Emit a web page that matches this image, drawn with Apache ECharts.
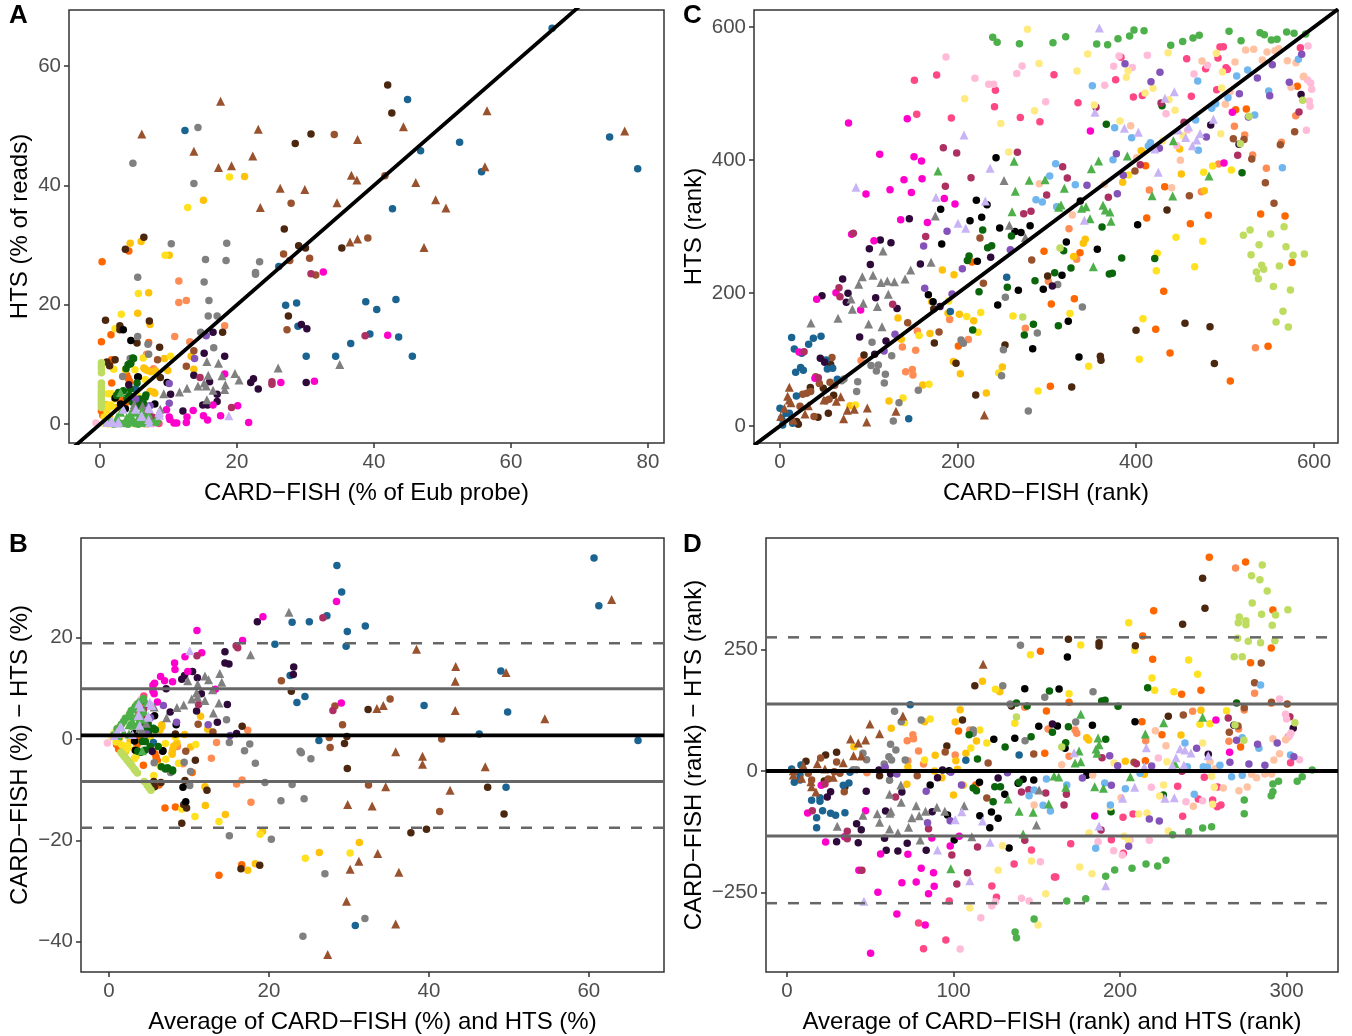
<!DOCTYPE html>
<html><head><meta charset="utf-8">
<style>html,body{margin:0;padding:0;background:#fff}#c{width:1352px;height:1036px}</style>
<script src="https://cdn.jsdelivr.net/npm/echarts@6/dist/echarts.min.js"></script>
</head><body><div id="c"></div>
<script>
// Panel A values: [CARD-FISH %, HTS %]
const pctBlue=[[12.4,49.2],[66,66.3],[44.9,54.4],[52.5,47.2],[46.8,45.8],[74.4,48.1],[78.5,42.8],[55.7,42.3],[42.7,36.1],[38.8,20.5],[43.2,20.9],[40.4,19.2],[39.4,15.1],[43.6,14.6],[45.6,11.4],[36.6,13.5],[26.1,26.4],[27.1,19.9],[28.7,20.3],[28.9,16.4],[30.1,11.4],[34.4,11.4],[5.2,5.9]];
const pctGrey=[[14.3,49.7],[4.8,43.7],[13.7,40.3],[10.4,30.2],[18.5,30.3],[15.4,27.6],[18.4,27.4],[23.3,27.2],[22.7,25.4],[22.7,25.1],[5.5,24.6],[15.2,23.8],[15.9,20.7],[15.8,18.1],[17.1,18.1],[14.7,15.4],[5.5,14.7],[7,13.4],[16.6,12.8],[7.1,11.7],[4.4,11],[3.3,8]];
const pctBrown=[[34.2,48.5],[27.9,37],[41.6,41.6],[39.1,31.2],[26.8,28.5],[27.7,27.4],[30.6,27.8],[31.5,25],[27.3,15.8],[13.7,12.3],[8.4,10.8],[12.6,9.7]];
const pctDarkBrown=[[28.5,47],[30.8,48.6],[26.9,32.7],[42,56.8],[42.6,52.1],[3.7,29.3],[6.4,31.3],[29,29.9],[30,29.5],[35.3,29.5],[0.8,17.4],[7.2,17.3],[2.9,16.5],[2.9,15.8],[27.5,18.1],[17.9,15.4],[5.4,13.6],[8.7,12.9],[2.2,10.8],[1,10.4],[1.4,9.8],[8.8,7.8]];
const pctOrange=[[0.3,27.2],[4.2,29],[1.6,15],[0.2,13.8],[7.1,13.7],[1.8,10.7],[1.7,6.9],[4.1,7.7],[0.2,2.2],[0.8,2.2],[0.4,1.5],[1.7,10.8],[0.3,3],[0.6,1.7],[3.7,3.5],[2.9,4.1],[3.9,8.2],[4.3,7.2]];
const pctSalmon=[[11.5,24],[11.5,20.4],[12.6,20.7],[18.2,16.5],[10.9,14.7],[13.1,13.8],[6.8,11.7],[7.8,9.3]];
const pctGold=[[21.1,41.5],[15.1,37.5],[4.4,30.3],[6,30.6],[10.1,28.3],[7.1,22],[5.5,18.6],[7.3,16.7],[13.3,11.4],[9.4,11],[13.7,9.2],[6.4,9.4],[6.9,9],[7.4,8.8],[9.9,9],[7.3,5.5],[8,5.2],[8.1,8.9],[6.6,9.2],[7.8,5.4],[0.8,3.3],[2.5,2.8],[1.4,1.2]];
const pctYellow=[[18.9,41.4],[12.8,36.3],[9.5,28.3],[5.6,21.9],[3.1,18.4],[2.2,16],[10.3,11.4],[6.3,11.1],[2,9.2],[5.1,9.1],[8.5,8.1],[1.2,5.1],[1.7,5.1],[5.4,4.9],[1.4,3.2],[1.7,3],[1,3.1],[3.7,9.1],[6.6,7.5],[0.6,1.2],[1,2.2],[2.1,4.2]];
const pctBlack=[[3.4,15.8],[4.5,14],[5.6,7.9],[9.8,7],[8,3.4],[3,3.4],[5.5,7.9],[2.2,4.4],[3.7,2.6]];
const pctDarkGreen=[[4.9,11],[4.1,10],[4.5,10.2],[3.8,9.3],[2.7,5.3],[4.4,5.9],[5.4,6.9],[6.7,4.9],[5.8,4.2],[5.8,3.1],[4.8,11.1],[4.3,4.8],[6.6,4.5],[4.7,3.7],[6.4,3.4],[4.4,10.1],[3.4,5.6],[2.4,4.8],[3.9,4.4],[5.1,3.7]];
const pctDarkPurple=[[29.4,16.7],[30.2,16],[16.5,15.4],[15.2,11.9],[18.2,11.4],[13.7,8.2],[22.4,7.6],[22,7],[30.1,7],[16,7.1],[23.1,5.9],[17.1,5],[10.3,5],[4.2,6.6],[17.1,3.8],[15,3.2],[15.7,3.2],[12.1,2.2]];
const pctMagenta=[[42,14.9],[32.6,25.5],[18.2,8.4],[26.4,7],[31.3,7.2],[16.5,3.2],[20.1,3.1],[17.6,1.4],[15.7,0.7],[15.1,1.4],[13.6,2.3],[21.7,0.3],[9.7,2.4],[10.1,1.2],[10.2,0.8],[10.8,0.2],[11.2,0.2],[12.6,0.3],[12.7,1.2]];
const pctRaspberry=[[38.7,14.8],[30.8,25.2],[14.6,7.8],[25.1,7.1],[25.1,6.7],[19.2,2.8],[7.3,1.4],[7.8,1.1],[6.6,1.9]];
const pctPink=[[8.6,0.1],[6.4,0.8],[5,0.3],[7.2,0.4]];
const pctLightPink=[[-0.6,0.2],[7.9,0.1],[3.5,0.1],[6.3,0.1]];
const pctPurple=[[15.5,14.8],[13.8,11],[10.1,6.8],[10.1,3.5],[5.2,4.2],[7.3,3.1]];
const pctLime=[[0.2,10.3],[0.2,9.8],[0.2,9.3],[0.2,8.6],[0.2,6.9],[0.2,6.4],[0.2,6.1],[0.2,5.6],[0.2,5.2],[0.2,4.9],[0.2,4.5],[0.2,4.2],[0.2,3.8],[0.2,3.5],[0.2,3.1],[0.2,2.8]];
const pctGreen=[[1,0.2],[2,0],[3,0.1],[4.1,0],[5.6,0],[6.5,0.1],[7.5,0.2],[8.3,0.3],[1.4,0.5],[4.8,0.4],[2.6,0.2],[3.6,0.1],[5.1,0.1],[6,0.2],[7,0.1]];
const pctLightYellow=[[0.5,0.1],[1.2,0],[2.2,0],[3,0.1],[4,0.1],[5.4,0],[6.8,0],[2.6,0.2],[1.7,0.1],[3.5,0.2],[4.7,0.1],[6.1,0.1]];
const pctGreyTri=[[35,10],[26,9.4],[15.6,10.5],[17.3,10.2],[19.7,8.5],[15.8,8.2],[17.8,8.1],[20.3,7.4],[15.2,6.9],[14.3,6.4],[15.5,6.4],[18.3,6.6],[12.7,6],[16.5,5.7],[18.2,5.8],[11.6,5.4],[9.3,5.1],[15.6,4.1],[8.8,2.5],[5,3.3],[5.1,2.2],[4.9,2.8],[6.2,3.1]];
const pctBrownTri=[[6.1,48.6],[17.6,54.1],[23.1,49.4],[37.6,47.7],[13.7,45.7],[17.3,43],[19.2,43.3],[22.3,44.9],[26.3,39.5],[29.9,39.3],[36.7,41.7],[37.5,40.9],[34.6,37.1],[23.4,36.3],[44.3,49.8],[56.5,52.5],[76.6,49.1],[56.2,43.1],[46.1,40.5],[49,37.6],[50.5,36.2],[36.5,30.5],[37.6,31],[47.3,29.6]];
const pctGreenTri=[[4.4,1.7],[5.1,2],[5.6,1.1],[3.9,1.1],[3,5.3],[3,2],[1.5,0.8],[8.3,1.1],[7.1,1.7],[6.3,1.5],[2.5,1.2],[4.7,1.1],[6.1,2.2]];
const pctLavTri=[[18.8,1.4],[8.7,2],[7.1,2.8],[6.1,1.4],[7.1,0.8],[1.7,0.6],[2.7,0.4],[1,0.3],[3.4,2.5],[1.75,0.3],[2.6,0.2],[5.2,2.5],[8.6,2],[6,1.3],[7.2,2.6],[7.2,0.25],[8.7,1.5]];

// Panel C values: [CARD-FISH rank, HTS rank]
const rankBlue=[[254.7,223.6],[191.4,172],[13.1,132.9],[37.5,131.9],[46.1,134.9],[32.2,122.8],[16.1,115.8],[24.4,109.3],[51.7,99.3],[53.2,85.8],[59.2,86.8],[17.6,80.7],[23.2,87.8],[26.2,83.8],[64.4,70.2],[18.4,45.2],[0,26.6],[6.8,19],[10.5,19],[1.9,11.6],[3,1.6],[14.2,4],[144.6,11]];
const rankGrey=[[253.2,193.5],[289.1,139.9],[251,114.8],[249,75.7],[279,22.6],[203.4,129.4],[206,124.4],[103.4,125.9],[125.5,105.8],[102.3,90.8],[110.5,91.8],[108.3,82.7],[118.4,77.7],[117.2,64.7],[87.3,66.7],[86.1,51.7],[155.4,53.7],[133.7,35.1],[127.3,7.6],[71.9,70.7],[69.3,68.2],[312,212.6],[339.7,179]];
const rankBrown=[[224.7,282.8],[282.8,249.7],[228.5,214.6],[143.5,155.4],[178.7,141.4],[58.4,102.8],[40.1,74.2],[56.2,65.7],[44.2,63.7],[61.4,61.2],[25.5,47.7],[30,49.2],[34.5,51.7],[55.1,40.2],[51.3,38.1],[22.5,29.6],[38.2,14.1],[509.3,432],[521.3,431],[562.1,423],[530,401.5],[545.3,365.9],[578.2,442.6],[459.9,346.4],[555,334.8],[398.8,383.4]];
const rankDarkBrown=[[434.8,324.8],[300.7,225.6],[252.8,121.9],[173.4,124.9],[197.8,94.3],[219.9,46.7],[94.4,106.8],[56.9,92.8],[34.1,57.7],[48.7,56.7],[60.3,46.2],[42.7,13.1],[54.3,19.1],[18.7,6.6],[20.6,2.6],[172.7,176],[400,143.9],[455,154.4],[483.1,149.4],[488,93.8],[359.9,104.8],[360.6,98.8],[327.7,58.7]];
const rankOrange=[[215.7,246.7],[200.4,120.3],[511.9,475.7],[523.9,476.7],[581.2,510.8],[410.8,391.5],[432.2,359.9],[412,312.8],[481.2,316.8],[461,304.3],[540,318.8],[567.4,315.8],[575.2,245.7],[548.3,119.8],[505.9,67.7],[422.1,145.4],[438.2,109.8],[431.1,202.6],[337,260.7],[296.6,262.7],[330.7,191.5],[304.8,183.5],[303.7,59.7]];
const rankSalmon=[[190.6,160],[211.6,129.9],[275.7,146.9],[154.3,142.9],[137.5,118.8],[152.4,113.8],[91,98.3],[141.2,81.7],[148.7,84.8],[149.4,76.7],[510.5,450.6],[522.1,437.6],[563.3,426.6],[531,407.5],[546.4,387.5],[492.8,394],[579.4,466.7],[414.9,354.9],[473.4,352.4],[534.1,117.8],[324.7,296.8],[333.3,250.7],[301.5,217.6]];
const rankGold=[[182.4,234.6],[195.5,227.6],[132.6,162.5],[170.4,187],[188.8,169.5],[201.5,168],[217.6,158.4],[168.5,138.9],[136.3,130.4],[249.8,88.8],[231.8,49.7],[202.6,78.7],[194.8,96.8],[122.5,37.6],[160.3,61.7],[78.7,30.6],[405.9,414],[449,416.5],[385,366.4],[450.9,379],[476.7,353.9],[343,280.7],[340.8,274.7],[329.9,254.7]];
const rankYellow=[[189.5,188],[209.8,164.5],[225.5,170.5],[261.8,165.5],[222.5,140.9],[156.2,135.9],[245.7,79.7],[289.9,52.7],[167.4,62.7],[138.2,42.2],[84.7,31.6],[391.7,377.4],[476,381.5],[486.1,391],[507.1,385],[474.9,277.7],[465.9,239.6],[444.9,283.8],[423.9,259.7],[422.8,233.6],[407.8,161.4],[403.7,100.3],[346.8,89.8],[325.8,169]];
const rankBlack=[[242.7,403.5],[220.6,339.4],[232.6,332.8],[180.5,325.8],[213.5,308.8],[226.6,313.8],[246.8,297.7],[281,301.3],[181.7,273.7],[221.7,247.7],[264,292.3],[270.8,290.8],[166.7,197.5],[267.8,204],[295.8,205.6],[244.6,182],[283.9,116.3],[172,187],[337.4,338.3],[401.8,302.8],[321.7,276.7],[356.5,265.7],[316.8,226.6],[323.9,157.4],[335.9,103.8]];
const rankDarkGreen=[[227.7,294.7],[260,285.8],[212.4,255.7],[210.5,248.7],[233.3,268.2],[237.8,271.2],[223.6,202],[255.4,208.6],[286.5,218.6],[216.5,144.4],[284.7,153],[274.5,136.9],[429.2,481.7],[366.6,453.6],[519.1,381],[361.8,299.3],[318.7,263.7],[326.9,237.6],[308.6,230.6],[383.9,252.7],[421,251.7],[370,228.6],[373.4,229.6],[312.7,150.9]];
const rankDarkPurple=[[145.3,311.8],[112.7,279.7],[124.7,275.7],[100.4,266.7],[101.5,242.7],[70.4,221],[76.4,199.5],[47.2,196],[74.5,186],[107.5,193],[131.5,176.5],[157.7,243.7],[236.7,253.7],[89.5,133.9],[119.1,127.9],[106.4,107.8],[45.3,101.8],[50.2,95.8],[179.8,179.5],[483.9,452.6],[585.4,498.7],[515.7,423.6],[306,210.6]];
const rankMagenta=[[77,455.6],[143,462],[112,408.5],[150.6,405],[159,398.5],[139.3,370.4],[159.6,372],[123.6,355.4],[96.6,349],[147.6,351],[184.6,342],[196.6,334],[135.6,310],[165.6,306],[80.5,288.3],[105.6,278.7],[62.9,200.5],[41.2,190.5],[90.6,174.5],[21.4,111.3],[39.3,71.7],[348.7,443.6],[508.2,471.7],[498.8,395.5]];
const rankRaspberry=[[183.5,418.5],[198.5,410.5],[266.7,411.5],[214.6,373.4],[185.8,360.4],[299.6,347.4],[273.8,319.3],[282,322.8],[82.4,289.8],[163.7,284.8],[66.3,208],[67.4,194.5],[126.6,183],[27,111.8],[43.1,72.7],[355,479.2],[428.1,485.7],[453.9,456.6],[404.8,393],[514.2,407],[583.1,472.2],[317.6,390],[322.8,372.9],[368.9,343.9]];
const rankPink=[[151,520],[176,528],[242,505],[241,480],[153.6,468.7],[192.5,463],[270,464],[292,457.6],[307.8,528.3],[383.1,554.4],[377.1,520.8],[334.8,486.2],[397,494.7],[407.1,497.2],[462.1,495.7],[456.9,552.4],[492.1,553.4],[478.2,537.3],[494.3,570],[498.1,570.4],[501.1,538.8],[502.6,536.3],[490.6,505.8],[584.6,568.9]];
const rankLightPink=[[186.5,555],[219,523],[234.5,514],[240,514],[272,541.5],[266,530],[298.5,487.7],[380.9,556.4],[374.9,541],[364.8,512.3],[412.7,557.4],[395.8,539.3],[465.1,529.3],[480.1,542.4],[433.7,469.7],[458,445],[445.7,422],[593.2,571.4],[588,525.3],[592.8,520.3],[596.2,515.8],[597.3,506.3],[594.7,488.7],[595.5,480.7],[591.4,444.6]];
const rankPurple=[[187.7,292.8],[161.4,270.7],[204.9,236.6],[162.6,207],[193.3,198.5],[258.8,265.2],[129.2,137.9],[116.9,112.8],[387.6,544.9],[426.9,531.8],[416.8,517.8],[516.1,499.7],[536.3,523.3],[553.1,543.4],[586.1,558.9],[572.2,516.8],[550.2,496.7],[526.2,464.7],[479,434.6],[426.2,417.5],[377.9,409.5],[385.7,377],[344.9,361.9],[379,349.4]];
const rankLightBlue=[[287.6,340.4],[303,376],[350.9,511.8],[469.3,518.8],[513.1,526.3],[525.4,535.3],[582.4,551.4],[549,503.8],[503.3,493.7],[489.5,484.7],[485,477.7],[467,460.2],[533.3,467.7],[376,448.6],[395.1,433.6],[416.1,426],[413.8,421],[470,414.5],[309.7,394.5],[374.1,400.5],[564.4,388.5],[331.8,362.9],[294.7,336.8],[310.8,329.8]];
const rankPeach=[[291.4,364.4],[523.2,565.4],[532.2,566.4],[547.2,562.4],[556.1,564.4],[560.3,567.4],[541.9,550.4],[570,549.4],[579.7,546.4],[511.2,547.4],[474.1,548.9],[588.4,525.8],[574.1,509.3],[500.3,483.7],[505.6,502.8],[394,451.6],[449.8,399.5],[440,358.4],[328.4,317.3],[364.4,363.4],[400.7,403.5]];
const rankLightYellow=[[278,596.5],[291,545],[286,474],[207.5,492],[248,455],[257,412],[345.7,559.4],[333.7,533.8],[391,534.3],[389.1,524.3],[419,507.8],[410.1,500.7],[353.1,482.7],[382,458.6],[437,490.7],[443.8,474.7],[436,561.4],[490.2,560.4],[497,532.3],[496.2,508.3],[495.1,439.6],[453.1,436],[430,429]];
const rankLime=[[272.7,164],[526.9,465.7],[517.2,424.6],[587.2,489.7],[520.6,286.8],[528.1,294.8],[551.3,288.8],[566.3,299.8],[538.2,272.7],[568.5,269.7],[529.2,257.7],[576.4,256.7],[589.1,258.7],[561,240.6],[541.2,241.6],[543.4,235.6],[535.2,231.6],[537.4,221.6],[554.3,209.6],[573.4,204.6],[565.1,172.5],[557.3,156.4],[571.1,148.9],[314.6,267.7]];
const rankGreen=[[239,584.5],[244,577],[269,575],[306.7,576.4],[321,585.5],[355.8,574.4],[368.1,573.4],[379.7,582.5],[392.8,586.5],[397.7,595.5],[409,594.5],[439,572.4],[452.4,578.4],[464,583.5],[471,587.5],[504.5,593.5],[518,579.4],[539.3,591.5],[544.2,588.5],[552,580.5],[558.4,581.5],[569.2,592.5],[577.5,590.5],[590.6,589.5]];
const rankGreyTri=[[251.7,369],[174.5,315.8],[257.7,301.8],[115.7,263.2],[92.5,224.6],[104.5,226.6],[88.4,213],[120.6,218],[113.5,215.6],[128.5,217],[140.5,221],[146.8,234.6],[169.7,246.2],[121.7,198],[79.8,191],[93.6,184.5],[109.4,179.5],[81.3,175.5],[65.2,162],[34.8,155],[99.6,153.4],[114.6,149.4],[275.7,283.3]];
const rankBrownTri=[[10.5,58.2],[8.6,44.6],[10.5,39.1],[12.4,35.1],[31.8,30.6],[4.9,26.6],[0.8,14.1],[15,9],[28.1,18.1],[49.4,39.1],[63.3,37.1],[68.2,44.1],[83.5,25.1],[75.7,23.6],[98.1,27.1],[71.5,11],[97.4,6.1],[130.3,22.1],[229.6,16.6]];
const rankGreenTri=[[177.5,383.5],[263,398],[280,369.4],[297.8,370.4],[264.4,353],[260.7,322.3],[441.9,429],[390.2,406],[358,398.5],[349.8,387],[319.4,357.4],[482,376],[418,346.4],[441.2,345.9],[315.7,332.3],[313.1,328.8],[343.8,329.8],[338.9,327.3],[362.9,331.8],[365.5,324.8],[370.7,321.8],[371.9,307.8],[348.3,311.8],[352,239.6]];
const rankLavTri=[[206.7,437.6],[85.4,358.9],[236,387.5],[175.3,343.9],[230.7,338.3],[200,305],[208.6,297.2],[358.8,598.5],[443,502.8],[432.5,493],[353.9,471.7],[386.9,447.6],[402.6,441.6],[447.5,445],[459.1,450],[486.9,461.2],[471.9,440],[468.1,430],[455.8,434],[463.3,421.5],[421.3,416.5],[425,381.5],[341.9,309.3]];

// Panel D values: [average rank, rank difference]
const diffBlue=[[74,136.4],[139.4,32.9],[107.4,21.9],[2.8,4],[8.4,12.3],[7.8,-8.3],[4.4,-23.4],[7.8,-18.6],[37.8,-2.8],[33.8,-29.5],[37.2,-24.7],[14.8,-60.4],[19.8,-55],[19.8,-62.5],[21.4,-81.7],[26.2,-87.2],[29.2,-91.3],[34.8,-85.8],[17.8,-96],[17.8,-116.6]];
const diffGrey=[[140.2,258.5],[129.6,175.5],[154.8,151.5],[64.6,122.7],[68.6,101.5],[80.6,104.9],[111.8,84.3],[111.8,77.5],[143,62.4],[134,137.8],[62.2,54.8],[65.4,43.2],[61.2,29.5],[62.8,22.6],[58.4,14.4],[71,22.6],[45.6,36.3],[47.8,23.3],[39.8,2.7],[41.8,2.7],[61.6,-19.3],[183.8,163.2],[173.4,100.8]];
const diffBrown=[[20.2,26.7],[29.8,18.5],[12.8,-4.8],[28.4,-1.4],[31.8,-4.8],[14.8,-18.6],[24.8,-16.5],[34.4,-42.6],[95,39],[120.8,16.4],[148.2,34.9],[78.2,-9.7],[120,-55.6],[284.8,222.2],[280.8,181.7],[300.4,137.8],[291,141.3],[274.6,130.3],[238,115.2],[265.6,79.6],[208.4,17.8],[270.8,92.6]];
const diffDarkBrown=[[112.8,175.5],[105.4,104.9],[134.8,133.7],[96,51.4],[29.8,38.4],[23.2,32.9],[11.4,19.8],[34.8,-32.3],[22.4,-20.6],[55.6,-9.7],[249.6,396.4],[251,334.7],[237.6,301.8],[169,270.9],[187.4,264],[187.4,257.2],[209.2,257.9],[229,112.5]];
const diffOrange=[[152.2,246.2],[103,82.3],[155.8,123.4],[154.8,36.3],[113.4,-28.9],[253.6,439.6],[275.4,430],[220.2,329.9],[291.8,331.3],[290.8,253],[219.6,229.8],[213.6,277.8],[278.4,222.9],[237,157.7],[248.6,166],[169.4,141.3],[213.2,101.5],[225.2,74.8],[272.4,49.4],[215.2,21.3]];
const diffSalmon=[[109.8,84.3],[142.8,131],[156.8,86.4],[101,32.9],[79,41.1],[72.2,62.4],[75.6,74.7],[76,66.5],[72.6,21.2],[82,14.4],[48,-3.5],[269.4,417.7],[280.8,159.8],[243.6,122.8],[274.6,125.5],[290.8,139.2],[271.2,86.4],[265.4,61],[215.4,62.4],[173,84.3],[174,77.5],[169.4,30.2],[301,70.6]];
const diffGold=[[117.4,184.5],[127.8,163.2],[62.6,87.7],[82.6,101.5],[104,126.2],[101,100.8],[113.8,61.7],[107.4,36.3],[89,32.2],[101.4,21.2],[102.4,3.4],[72.6,8.9],[40.2,50],[88.6,0],[93,-13.8],[72,-27.5],[100,-49.4],[105.8,-29.5],[248.6,124.8],[236.6,74],[203.2,19.9],[180,68.6],[181.2,63.8],[214.6,-6.9]];
const diffYellow=[[146.2,239.3],[125.2,168],[70.6,99.4],[86,107],[115.8,84.3],[120,57.6],[110.4,47.3],[136.8,98],[82.6,22.6],[205.2,305.2],[176.4,259.3],[208.8,248.3],[241.2,228.4],[246.6,198.9],[219.2,191.3],[220.8,166],[232.4,163.2],[169.4,159.1],[264,124.1],[248,96],[254,97.4]];
const diffBlack=[[142.8,169.4],[124.2,65.1],[136.8,67.2],[151.2,91.9],[86,-28.9],[96.4,-90.6],[115.6,-23.4],[115.8,-92],[122.8,-84.4],[126.8,-97.4],[121.8,-116.6],[130.8,-48],[138.8,-25.4],[141.8,-17.2],[148.2,-18.6],[100.4,-142],[133.4,-158.5],[97.4,0.6],[168.4,234.6],[163.4,168.7],[183.4,94],[209,101.5],[162.4,92.6],[180,-8.6],[167,46.6]];
const diffDarkGreen=[[157.6,164.6],[109.4,74.7],[146.6,70.6],[137.8,139.9],[144.2,133.7],[159.4,79.5],[131,49.3],[114.4,24.6],[111.8,-35],[113.8,-40.5],[124.8,-32.3],[128.2,-32.3],[123.8,-63.1],[139.4,-23.4],[216.6,171.5],[189,144],[191,145.4],[198.8,133],[270,139.9],[169,91.2],[191.4,65.2],[167.4,58.3],[194.6,-83.7],[226,-49.4]];
const diffDarkPurple=[[159.4,96.7],[55.2,2],[26.2,-42.6],[24.2,-53.5],[47.6,-41.9],[69,-43.3],[59.2,-82.4],[87.2,-83.7],[41.8,-108.4],[44.6,-120.8],[29.8,-145.4],[42.8,-147.5],[58.6,-138.6],[72.2,-148.9],[59.6,-163.3],[66.6,-164.6],[83.6,-163.3],[62.2,-5.5],[90.4,-13.8],[93.4,2],[126.8,-14.5],[253,34.3],[304,87.8],[268.4,94]];
const diffMagenta=[[20.6,-29.5],[12.4,-86.5],[47.2,-81.7],[23.2,-146.1],[34.6,-135.2],[56.2,-170.8],[72.6,-171.5],[87,-137.9],[103.4,-134.5],[98,-154.4],[80.6,-200.3],[88,-209.2],[77.6,-228.4],[69,-229.8],[88.4,-237.4],[85,-252.4],[54.6,-249.7],[43.2,-204.4],[66,-294.3],[83,-317],[50.2,-375.2],[257.6,104.9],[265.8,38.4],[184.8,-92.6]];
const diffRaspberry=[[15.2,-81.7],[22.8,-26.8],[65.2,-53.5],[36.2,-124.2],[36.2,-139.3],[85,-118.7],[99,-172.9],[108.4,-209.2],[102,-232.6],[45,-204.4],[114.4,-156.4],[140.8,-43.3],[145.2,-38.5],[155.4,-45.3],[142.8,-142.7],[265,109],[302,111.8],[209.8,15.1],[189.2,27.4],[167.8,-48],[166.4,-70],[188.6,-121.4],[237.2,-0.7]];
const diffPink=[[136.4,-191.4],[146.8,-162.6],[123,-236.7],[125.8,-260],[97.4,-267.5],[79,-312.8],[95.4,-347.8],[82,-365.6],[160.6,-218.2],[302.4,17.1],[250.6,-13],[234.6,-31.6],[258.6,-33],[247,-57.6],[255.6,-59.7],[260.6,-70],[258.4,-73.4],[237.6,-93.3],[207.8,-88.5],[201.8,-95.3],[194.8,-141.3],[170.4,-149.5],[161.4,-218.1],[202,-169.4]];
const diffLightPink=[[152.2,-186.6],[140.8,-262],[145.4,-267.5],[123,-277.1],[125.2,-269],[116.4,-301.8],[104,-366.3],[295.8,148.1],[299.4,116.6],[300,107],[302.6,77.5],[301.6,71.3],[307.8,23.3],[223,26.7],[218.8,-33.6],[239.6,-63.1],[249.6,-61],[186.8,-145.4],[217.6,-142.7],[206,-142],[196.2,-164],[201.4,-172.8]];
const diffPurple=[[59,7.5],[66,-6.2],[83.6,-41.9],[98.4,-2.8],[84.4,-106.4],[98,-102.3],[104.8,-28.9],[132.4,-3.5],[294.4,57.6],[282.6,54.9],[270,63.1],[246,46.6],[266,17.8],[277.4,14.4],[287,11.6],[304.4,29.5],[219,10.3],[198.6,11],[193.8,31.5],[177.4,-14.4],[194.8,-29.5],[217.6,-98.8],[223.6,-102.9],[205.2,-155]];
const diffLightBlue=[[145.4,-50.8],[148.4,-39.1],[155.8,-16.5],[153.8,-70.7],[158.2,-82.4],[284.4,177],[273.4,68.6],[283.4,46.6],[239,57.6],[302.4,33],[260,11.6],[250,8.9],[252.4,7.6],[240.4,8.9],[267,-11.7],[273.4,-9],[190.8,-24.7],[203.2,-36.4],[168,-28.8],[244.6,-48],[194.2,-70],[185.4,-159.1],[212,-4.8]];
const diffPeach=[[148.4,-70],[221.2,83],[227.6,52.1],[165,13],[291.8,66.5],[299.4,64.5],[295.8,35.7],[292.4,22.6],[254,18.5],[262,-35],[271.4,-40.5],[276.4,-33],[279,-6.9],[282,-13.7],[287,-6.2],[291,-6.2],[244,-72.7],[200.6,-54.9],[257,4.8],[183.6,-8]];
const diffLightYellow=[[129.4,-153.7],[146.8,-185.2],[126.8,-204.4],[155.4,-252.4],[109.8,-282],[150.8,-317],[249.6,57.6],[196.4,16.5],[228.2,19.2],[255,-11],[226.2,-28.8],[223.8,-51.4],[256.6,-33.6],[255.6,-68.6],[194.2,-74],[211.2,-88.5],[216.2,-86.4],[181.4,-127.6],[202.4,-134.4],[205,-142],[229,-123.5],[175.8,-197.5],[183.2,-211.3]];
const diffLime=[[137.8,111.1],[285.4,423.9],[279,401.9],[284,393.7],[288.4,370.4],[279.4,345.7],[300.8,332],[285,322.3],[293.4,321],[271.6,316.9],[271,305.2],[275.6,309.3],[275.6,301.1],[291.4,299.7],[270.6,273],[277,266.8],[284.4,264],[293,268.2],[268.6,235.2],[273.4,235.2],[305,99.4],[269,94.6],[274.4,63.1],[165,49.4]];
const diffGreen=[[148.4,-304.6],[137,-331.3],[137.8,-343],[315.4,2],[309.4,-11.7],[306.4,-21.3],[295.2,-21.3],[291.8,-26.8],[291.8,-42.6],[290.8,-50.8],[274.6,-59.7],[274.6,-87.8],[255,-114.6],[249.6,-117.3],[241.2,-124.8],[231.6,-131],[227.6,-183.8],[222.6,-195.5],[215.6,-191.4],[207.2,-200.3],[196.8,-203.7],[191.4,-216.7],[179.4,-262.7],[168,-267.5]];
const diffGreyTri=[[30.2,-113.9],[45.6,-91.3],[54.2,-87.8],[55.6,-105.7],[61.6,-119.4],[66.6,-126.9],[73,-116],[75,-96.1],[79.4,-92],[83.2,-83],[77.6,-71.4],[90,-74.8],[94.8,-83],[106.4,-71.4],[62.4,-83],[61.8,-87.2],[61.6,-48],[68.4,-28.9],[68.6,-64.5],[80,-142],[111,-135.2],[149.8,-111.2],[151.4,-39.1]];
const diffBrownTri=[[117.8,219.4],[69.6,113.1],[49.8,96.7],[55.6,76.8],[38.2,65.8],[42.8,57.6],[47.2,63.7],[40,31.5],[44.6,30.8],[18.2,15],[22.8,4],[33.8,17.1],[9.8,11.6],[3.8,0.6],[3.8,-8.3],[8.8,-15.1],[14.4,-22],[14.8,-32.3],[17.4,-43.3],[27.8,-13]];
const diffGreenTri=[[132.8,-57.7],[139.4,-83],[147.8,-85.1],[157.2,-68],[141.8,-129.7],[98.4,-201],[160.4,-10.3],[176.4,116.6],[226.2,99.4],[249.6,110.4],[215.2,76.1],[186.8,67.9],[187.4,54.2],[185.6,45.3],[186.2,36.3],[175.4,41.1],[176.4,19.2],[173,16.4],[163.2,-12.3],[167.4,-33.6],[184.8,-32.2],[190,-35.7],[206.2,-11.7],[233,15.1]];
const diffLavTri=[[105,-83.7],[101,-100.2],[117.4,-103],[122,-146.8],[90.4,-162.6],[109.8,-225.7],[46.2,-268.2],[172.4,37.7],[215.8,48],[236,45.9],[239,43.2],[242.6,37],[233.6,27.4],[253,31.5],[238.4,12.3],[231.4,11.7],[214.6,8.9],[208.8,-33.6],[201.6,-56.3],[227,-56.3],[232.6,-54.9],[187.4,-113.2],[191.4,-236]];

// Reference lines of panels B and D
const pctMean=0.7, pctSd=[9.9,-8.4], pctLoa=[18.9,-17.5];
const rankMean=0, rankSd=[138,-134], rankLoa=[275,-272];

// Tick values
const ticksAx=[0,20,40,60,80], ticksAy=[0,20,40,60];
const ticksBx=[0,20,40,60], ticksBy=[-40,-20,0,20];
const ticksCx=[0,200,400,600], ticksCy=[0,200,400,600];
const ticksDx=[0,100,200,300], ticksDy=[-250,0,250];

// Groups, bottom to top: [colour, symbol, percent points, rank points, rank-difference points]
const groups=[
 ['#FF6600','circle',pctOrange,rankOrange,diffOrange],['#FF8C55','circle',pctSalmon,rankSalmon,diffSalmon],
 ['#FFC20A','circle',pctGold,rankGold,diffGold],['#FFE120','circle',pctYellow,rankYellow,diffYellow],
 ['#4B2710','circle',pctDarkBrown,rankDarkBrown,diffDarkBrown],['#99522E','circle',pctBrown,rankBrown,diffBrown],
 ['#808080','circle',pctGrey,rankGrey,diffGrey],['#1B6491','circle',pctBlue,rankBlue,diffBlue],
 ['#000000','circle',pctBlack,rankBlack,diffBlack],['#0B660B','circle',pctDarkGreen,rankDarkGreen,diffDarkGreen],
 ['#2E0A3A','circle',pctDarkPurple,rankDarkPurple,diffDarkPurple],['#FF00CC','circle',pctMagenta,rankMagenta,diffMagenta],
 ['#AE3062','circle',pctRaspberry,rankRaspberry,diffRaspberry],['#FF4785','circle',pctPink,rankPink,diffPink],
 ['#FFBBD8','circle',pctLightPink,rankLightPink,diffLightPink],['#FFEA80','circle',pctLightYellow,rankLightYellow,diffLightYellow],
 ['#FFC2A3','circle',[],rankPeach,diffPeach],['#6FB6EF','circle',[],rankLightBlue,diffLightBlue],
 ['#8353B9','circle',pctPurple,rankPurple,diffPurple],['#BEDC60','circle',pctLime,rankLime,diffLime],
 ['#4DB04A','circle',pctGreen,rankGreen,diffGreen],['#808080','triangle',pctGreyTri,rankGreyTri,diffGreyTri],
 ['#99522E','triangle',pctBrownTri,rankBrownTri,diffBrownTri],['#4DB04A','triangle',pctGreenTri,rankGreenTri,diffGreenTri],
 ['#C8B4F5','triangle',pctLavTri,rankLavTri,diffLavTri]
];
// Panel B is the Bland-Altman view of panel A: mean and difference of the same samples
const bland=p=>p.map(([x,y])=>[(x+y)/2,x-y]);

const font='"Liberation Sans",Arial,sans-serif';
const panels=[
 {g:{left:69,top:10,width:595,height:433},x:[-4.53,82.34],y:[-3.15,69.37],tx:ticksAx,ty:ticksAy,
  xn:'CARD\u2212FISH (% of Eub probe)',yn:'HTS (% of reads)',yg:37,idx:2,f:d=>d,hl:null},
 {g:{left:81,top:538,width:583,height:434},x:[-3.5,69.4],y:[-45.96,39.64],tx:ticksBx,ty:ticksBy,
  xn:'Average of CARD\u2212FISH (%) and HTS (%)',yn:'CARD\u2212FISH (%) \u2212 HTS (%)',yg:49,idx:2,f:bland,hl:[pctMean,pctSd,pctLoa]},
 {g:{left:754,top:10,width:584,height:433},x:[-29.2,626.9],y:[-25.6,625.6],tx:ticksCx,ty:ticksCy,
  xn:'CARD\u2212FISH (rank)',yn:'HTS (rank)',yg:48,idx:3,f:d=>d,hl:null},
 {g:{left:766,top:538,width:572,height:434},x:[-12.6,330.9],y:[-413.6,479.4],tx:ticksDx,ty:ticksDy,
  xn:'Average of CARD\u2212FISH (rank) and HTS (rank)',yn:'CARD\u2212FISH (rank) \u2212 HTS (rank)',yg:60,idx:4,f:d=>d,hl:[rankMean,rankSd,rankLoa]}
];
const fmt=v=>String(v).replace('-','\u2212');
const grids=[],xAxes=[],yAxes=[],series=[];
const axisCommon=(ticks,margin)=>({
 axisLine:{show:false,onZero:false},splitLine:{show:false},
 axisTick:{show:true,length:5,customValues:ticks,lineStyle:{color:'#333',width:1.5}},
 axisLabel:{customValues:ticks,formatter:fmt,color:'#4D4D4D',fontSize:20.5,fontFamily:font,margin},
 nameLocation:'middle',nameTextStyle:{color:'#000',fontSize:24,fontFamily:font}
});
panels.forEach((p,i)=>{
 grids.push(Object.assign({show:true,borderColor:'#333',borderWidth:1.5,backgroundColor:'#fff'},p.g));
 xAxes.push(Object.assign(axisCommon(p.tx,9),{type:'value',gridIndex:i,min:p.x[0],max:p.x[1],name:p.xn,nameGap:38}));
 yAxes.push(Object.assign(axisCommon(p.ty,8),{type:'value',gridIndex:i,min:p.y[0],max:p.y[1],name:p.yn,nameGap:p.yg}));
 groups.forEach(gr=>{
  const d=p.f(gr[p.idx]);
  if(!d.length) return;
  series.push({type:'scatter',xAxisIndex:i,yAxisIndex:i,data:d,symbol:gr[1],symbolSize:gr[1]==='circle'?7.5:9,
   itemStyle:{color:gr[0],opacity:1},silent:true,animation:false,clip:true});
 });
 const line=(data,color,width,dash)=>series.push({type:'line',xAxisIndex:i,yAxisIndex:i,data,symbol:'none',silent:true,
   animation:false,clip:true,lineStyle:{color,width,type:dash?[11,11]:'solid',cap:'butt'}});
 if(p.hl){
  const h=v=>[[p.x[0],v],[p.x[1],v]];
  p.hl[2].forEach(v=>line(h(v),'#666',2.5,true));
  p.hl[1].forEach(v=>line(h(v),'#666',3,false));
  line(h(p.hl[0]),'#000',3.8,false);
 } else {
  const lo=Math.min(p.x[0],p.y[0]),hi=Math.max(p.x[1],p.y[1]);
  line([[lo,lo],[hi,hi]],'#000',3.8,false);
 }
});
const letter=(t,l,tp)=>({text:t,left:l,top:tp,padding:0,textStyle:{fontSize:26,fontWeight:'bold',color:'#000',fontFamily:font}});
echarts.init(document.getElementById('c'),null,{renderer:'canvas'}).setOption({
 animation:false,backgroundColor:'#fff',
 title:[letter('A',9,3),letter('B',9,532),letter('C',683,3),letter('D',683,532)],
 grid:grids,xAxis:xAxes,yAxis:yAxes,series
});
</script></body></html>
